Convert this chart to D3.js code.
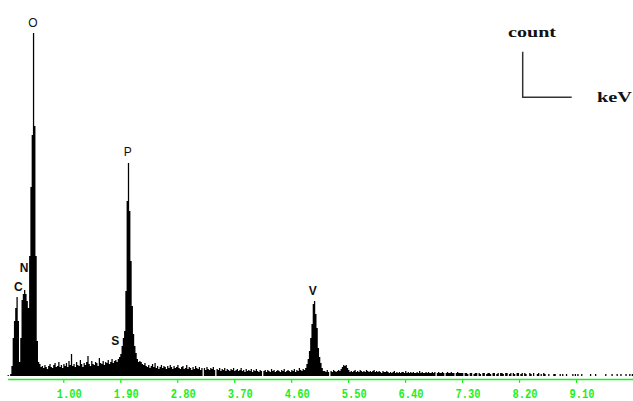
<!DOCTYPE html>
<html>
<head>
<meta charset="utf-8">
<script src="https://cdn.jsdelivr.net/npm/d3@7"></script>
<style>
  html, body { margin: 0; padding: 0; background: #fff; }
  svg { display: block; }
</style>
</head>
<body>
<svg id="chart" width="633" height="401"></svg>
<script>
// ---------------- DATA ----------------
// EDS spectrum, 0.02 keV per channel; counts.
const channelWidth = 0.02;   // keV
const firstEnergy = 0.12;    // keV of channel 0
const lastEnergy = 10.0;     // keV

// C, N, O region (starts 0.12 keV)
const lowEnergyCounts = [1,0,2,10,38,55,68,79,55,14,38,76,82,86,82,75,68,120,189,241,343,250,120,35,14];
// background between O and P (starts 0.62 keV)
const bgACounts = [
  12,9,10,8,11,9,7,10,12,9,
  8,11,13,9,10,14,9,11,8,12,
  10,13,9,15,11,22,10,12,9,14,
  11,10,16,12,9,13,11,14,20,12,
  10,15,12,11,14,13,10,18,13,12,
  15,11,14,13,16,12,14,17,13,15,
  16,14];
// S shoulder + P peak (starts 1.86 keV)
const pPeakCounts = [17,19,22,30,38,45,85,175,213,165,115,70,42,30,23,17,14,15];
// background between P and V (starts 2.22 keV)
const bgBCounts = [
  14,12,11,13,10,9,11,8,10,12,
  9,13,8,10,7,9,11,8,10,9,
  7,10,8,11,9,7,10,8,9,11,
  8,7,9,10,7,8,11,7,9,8,
  6,9,7,10,8,7,9,6,8,0,
  8,6,9,7,6,8,7,9,6,0,
  7,6,8,5,7,6,8,5,7,6,
  5,7,6,8,5,6,7,5,6,8,
  5,6,4,7,5,6,5,7,4,6,
  5,7,5,4,6,5,0,5,6,4,
  6,5,4,7,5,6,4,5,6,5,
  4,6,5,7,4,5,6,5,4,6,
  5,7,4,6,5,8,6,5,7,6];
// V K-alpha (starts 4.82 keV)
const vPeakCounts = [8,12,17,25,38,52,72,75,62,48,28,19,13,8,5];
// background (starts 5.12 keV)
const bgCCounts = [5,4,6,4,0,5,4,6,5,4,5,6];
// V K-beta (starts 5.36 keV)
const vKbetaCounts = [5,7,9,11,10,11,8,6,4];
// high-energy tail (starts 5.54 keV)
const bgDCounts = [
  5,4,5,6,4,5,4,6,5,4,5,4,6,5,4,5,4,5,6,4,5,4,5,4,3,5,4,4,5,
  4,3,4,3,4,5,3,4,3,4,3,4,4,3,5,3,4,3,4,3,4,3,3,4,3,5,3,4,3,3,4,3,4,3,3,4,3,4,0,3,4,3,3,4,3,0,3,4,3,3,4,3,3,0,3,4,3,3,
  3,3,0,3,3,2,0,3,3,0,2,3,3,0,3,2,0,3,3,0,2,3,3,2,0,3,3,0,2,3,0,3,3,2,0,3,3,0,2,3,0,3,2,0,3,3,0,2,3,0,3,2,0,0,3,2,0,3,0,0,2,3,0,2,0,3,
  2,0,0,2,0,0,0,2,2,0,0,0,2,0,2,0,0,2,0,0,0,0,2,0,2,0,2,0,0,2,0,0,0,0,0,0,2,0,0,0,2,0,0,0,0,0,0,0,2,0,0,0,0,2,0,0,0,2,0,0,2,0,0,0,2,0,0,2,0,2];

const segmentStarts = [0.12, 0.62, 1.86, 2.22, 4.82, 5.12, 5.36, 5.54];
const segmentCounts = [lowEnergyCounts, bgACounts, pPeakCounts, bgBCounts, vPeakCounts, bgCCounts, vKbetaCounts, bgDCounts];

// x-axis tick labels (keV)
const tickValues = [1.00, 1.90, 2.80, 3.70, 4.60, 5.50, 6.40, 7.30, 8.20, 9.10];

// element labels: name, energy (keV), count level of label baseline, bold
const elementNames   = ["C", "N", "O", "S", "P", "V"];
const elementEnergy  = [0.29, 0.38, 0.52, 1.82, 2.02, 4.94];
const elementLevel   = [85, 104, 349, 31, 220, 81];
const elementBold    = [true, true, false, true, false, true];

// ---------------- BUILD ----------------
const nChannels = Math.round((lastEnergy - firstEnergy) / channelWidth);
const counts = new Array(nChannels).fill(0);
segmentStarts.forEach((e0, s) => {
  const i0 = Math.round((e0 - firstEnergy) / channelWidth);
  segmentCounts[s].forEach((c, j) => { if (i0 + j < nChannels) counts[i0 + j] = c; });
});
const spectrum = counts.map((c, i) => ({ e: firstEnergy + i * channelWidth, c }));
spectrum.push({ e: lastEnergy, c: 0 });

// ---------------- DRAW ----------------
const svg = d3.select("#chart");
const x = d3.scaleLinear().domain([0, 10]).range([0, 633]);
const y = d3.scaleLinear().domain([0, 356]).range([376, 20]);

const area = d3.area()
  .x(d => x(d.e))
  .y0(y(0))
  .y1(d => y(d.c))
  .curve(d3.curveStepAfter);

svg.append("path")
  .datum(spectrum)
  .attr("d", area)
  .attr("fill", "#000");

// axis
const green = "#1bef1b";
const axis = d3.axisBottom(x)
  .tickValues(tickValues)
  .tickSize(4)
  .tickSizeOuter(0)
  .tickFormat(d3.format(".2f"));

const xScaleAxis = x.copy().domain([firstEnergy, lastEnergy]).range([x(firstEnergy), x(lastEnergy)]);
const g = svg.append("g")
  .attr("transform", "translate(0,379)")
  .call(axis.scale(xScaleAxis));
g.select(".domain").attr("stroke", green).attr("stroke-width", 1.4);
g.selectAll(".tick line").attr("stroke", green).attr("stroke-width", 1.2);
g.selectAll(".tick text")
  .attr("fill", green)
  .attr("x", 5.5)
  .attr("y", 19)
  .attr("dy", null)
  .attr("text-anchor", "middle")
  .attr("font-family", "'Liberation Mono', 'DejaVu Sans Mono', monospace")
  .attr("font-weight", "bold")
  .attr("font-size", 13)
  .attr("textLength", 25)
  .attr("lengthAdjust", "spacingAndGlyphs");

// element labels
svg.append("g").selectAll("text")
  .data(elementNames)
  .join("text")
  .attr("x", (d, i) => x(elementEnergy[i]))
  .attr("y", (d, i) => y(elementLevel[i]))
  .attr("text-anchor", "middle")
  .attr("font-family", "'Liberation Sans', Arial, sans-serif")
  .attr("font-size", 12)
  .attr("font-weight", (d, i) => elementBold[i] ? "bold" : "normal")
  .attr("fill", "#111")
  .text(d => d);

// unit key (top right)
svg.append("path")
  .attr("d", "M522.7,51.7V97.3H571.7")
  .attr("fill", "none")
  .attr("stroke", "#333")
  .attr("stroke-width", 1.5);
svg.append("text")
  .attr("x", 508).attr("y", 37)
  .attr("font-family", "'Liberation Serif', 'Times New Roman', serif")
  .attr("font-weight", "bold")
  .attr("font-size", 15)
  .attr("textLength", 48)
  .attr("lengthAdjust", "spacingAndGlyphs")
  .attr("fill", "#111")
  .text("count");
svg.append("text")
  .attr("x", 597).attr("y", 102)
  .attr("font-family", "'Liberation Serif', 'Times New Roman', serif")
  .attr("font-weight", "bold")
  .attr("font-size", 14)
  .attr("textLength", 35)
  .attr("lengthAdjust", "spacingAndGlyphs")
  .attr("fill", "#111")
  .text("keV");
</script>
</body>
</html>
